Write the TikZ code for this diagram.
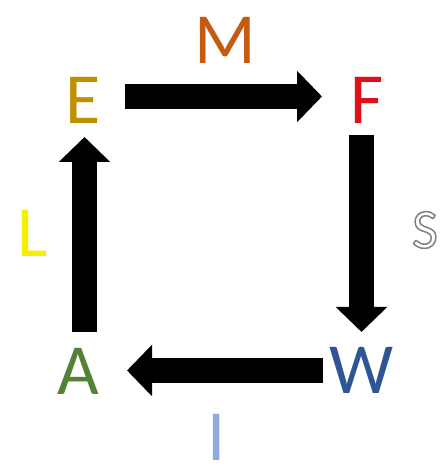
\documentclass[tikz,border=0pt]{standalone}
\usepackage{fontspec}
\setmainfont{Carlito}
\usetikzlibrary{arrows.meta}
\definecolor{cE}{HTML}{BF9000}
\definecolor{cM}{HTML}{C55A11}
\definecolor{cF}{HTML}{E0101A}
\definecolor{cW}{HTML}{2F5597}
\definecolor{cA}{HTML}{548235}
\definecolor{cL}{HTML}{F5F000}
\definecolor{cI}{HTML}{8FAADC}
\newcommand{\outlinetext}[1]{\special{pdf:literal direct 1 Tr 1.5 w 0.5 G}#1\special{pdf:literal direct 0 Tr}}
\tikzset{
  letter/.style={inner sep=0pt, anchor=center, font=\fontsize{72}{72}\selectfont},
  arr/.style={line width=25pt, -{Triangle[length=25pt, width=50pt]}}
}
\begin{document}
\begin{tikzpicture}[x=1pt,y=1pt]
\useasboundingbox[fill=white] (0,0) rectangle (446,468);
\node[letter, text=cE] (E) at (83,368) {E};
\node[letter, text=cF] (F) at (367,368) {F};
\node[letter, text=cW] (W) at (362,98) {W};
\node[letter, text=cA] (A) at (78,97) {A};
\node[letter, text=cM] (M) at (225,428) {M};
\node[letter, text=cL] (L) at (33,235) {L};
\node[letter, text=cI] (I) at (217,31) {I};
\node[inner sep=0pt, font=\fontsize{56}{56}\selectfont] (S) at (425,238) {\outlinetext{S}};
\draw[arr] ([shift={(42pt,3.5pt)}]E.center) -- ([shift={(-45pt,3.5pt)}]F.center);
\draw[arr] ([shift={(-5.5pt,-35pt)}]F.center) -- ([shift={(-0.5pt,38pt)}]W.center);
\draw[arr] ([shift={(-39pt,-0.5pt)}]W.center) -- ([shift={(49pt,0.5pt)}]A.center);
\draw[arr] ([shift={(6.5pt,39pt)}]A.center) -- ([shift={(1.5pt,-37pt)}]E.center);
\end{tikzpicture}
\end{document}
